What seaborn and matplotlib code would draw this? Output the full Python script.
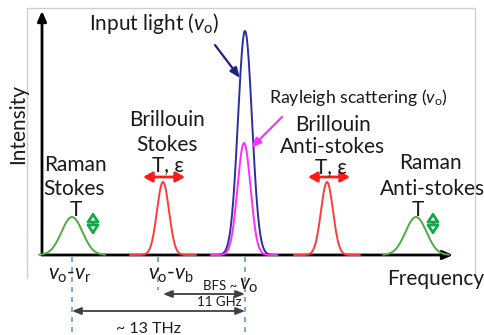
import numpy as np
import pandas as pd
import seaborn as sns
import matplotlib.pyplot as plt

sns.set_theme(style="white")
plt.rcParams['font.family'] = ['Lato', 'DejaVu Sans']
plt.rcParams['mathtext.fontset'] = 'custom'
plt.rcParams['mathtext.rm'] = 'Lato'
plt.rcParams['mathtext.it'] = 'Lato:italic'

# peaks of the scattered spectrum (x: position along frequency axis, y: intensity)
peak_names = ["Raman Stokes", "Brillouin Stokes", "Input light", "Rayleigh",
              "Brillouin Anti-stokes", "Raman Anti-stokes"]
peak_pos = [30, 121, 203, 202, 285, 374]
peak_height = [38, 73, 224, 112, 73, 38]
peak_width = [10.5, 6.0, 7.0, 6.5, 6.0, 10.5]
peak_colors = ["#4fa845", "#ff3b3b", "#2b2f9e", "#ff2cff", "#ff3b3b", "#4fa845"]

# frequency markers under the axis
marker_pos = [30, 116, 203]
marker_bottom = [-80, -35, -80]

# build a long table of the peak curves
rows = []
for name, c, h, s in zip(peak_names, peak_pos, peak_height, peak_width):
    xs = np.linspace(c - 33, c + 33, 200)
    for xv in xs:
        rows.append((name, xv, h * np.exp(-0.5 * ((xv - c) / s) ** 2)))
df = pd.DataFrame(rows, columns=["peak", "freq", "intensity"])

fig = plt.figure(figsize=(4.85, 3.35), dpi=100)
ax = fig.add_axes([0, 0, 1, 1])
ax.set_xlim(-42, 443)
ax.set_ylim(-80, 255)
ax.axis("off")

def P(x, y):
    # pixel position in the 485x335 picture -> figure fraction
    return (x / 485, 1 - y / 335)

# light grey frame
fig.add_artist(plt.Line2D([27 / 485, 27 / 485, 475 / 485, 475 / 485],
                          [1 - 278 / 335, 1 - 8 / 335, 1 - 8 / 335, 1 - 273 / 335],
                          color="#cfcfcf", lw=1.0))

# axes with arrow heads
ax.annotate("", xy=(411, 0), xytext=(0, 0),
            arrowprops=dict(arrowstyle="-|>,head_length=0.5,head_width=0.22",
                            color="black", lw=2.0, shrinkA=0, shrinkB=0), zorder=2)
ax.annotate("", xy=(0, 244), xytext=(0, 0),
            arrowprops=dict(arrowstyle="-|>,head_length=0.5,head_width=0.22",
                            color="black", lw=2.0, shrinkA=0, shrinkB=0), zorder=2)

palette = dict(zip(peak_names, peak_colors))
sns.lineplot(data=df, x="freq", y="intensity", hue="peak", palette=palette,
             hue_order=peak_names, lw=1.4, legend=False, ax=ax, zorder=3,
             sort=False, estimator=None)

# dashed marker lines
for xp, yb in zip(marker_pos, marker_bottom):
    ax.plot([xp, xp], [-2, yb], ls=(0, (3, 3)), color="#5b9bd5", lw=1.2)

fs = 15
tkw = dict(transform=fig.transFigure, ha="center", va="center", color="#1a1a1a")

fig.text(*P(154, 24), r"Input light ($v_\mathrm{o}$)", fontsize=fs, **tkw)
fig.text(*P(358, 97), r"Rayleigh scattering ($v_\mathrm{o}$)", fontsize=12.8, **tkw)

blocks = [
    ([165, 189, 210], ["Raman", "Stokes", "T"], [75, 74, 76]),
    ([120, 145, 165], ["Brillouin", "Stokes", "T, ε"], [167, 167, 168]),
    ([125, 147, 167], ["Brillouin", "Anti-stokes", "T, ε"], [333, 333, 331]),
    ([163, 189, 210], ["Raman", "Anti-stokes", "T"], [430, 433, 418]),
]
for ys, lines, xs in blocks:
    for xx, yy, t in zip(xs, ys, lines):
        fig.text(*P(xx, yy), t, fontsize=fs, **tkw)

fig.text(*P(18, 124), "Intensity", fontsize=fs, rotation=90, **tkw)
fig.text(*P(436, 279), "Frequency", fontsize=fs, **tkw)
fig.text(*P(70, 275), r"$v_\mathrm{o}$-$v_\mathrm{r}$", fontsize=15, **tkw)
fig.text(*P(171, 275), r"$v_\mathrm{o}$-$v_\mathrm{b}$", fontsize=15, **tkw)
fig.text(*P(220, 286), "BFS ~", fontsize=9.5, **tkw)
fig.text(*P(249, 285), r"$v_\mathrm{o}$", fontsize=15, **tkw)
fig.text(*P(219, 302), "11 GHz", fontsize=9.5, **tkw)
fig.text(*P(148, 329), "~ 13 THz", fontsize=11.5, **tkw)

akw = dict(xycoords="figure fraction", textcoords="figure fraction")
# pointer arrows
ax.annotate("", xy=P(240, 78), xytext=P(215, 45),
            arrowprops=dict(arrowstyle="-|>,head_length=0.5,head_width=0.2",
                            color="#1c2380", lw=1.6, shrinkA=0, shrinkB=0), **akw)
ax.annotate("", xy=P(251, 148), xytext=P(282, 117),
            arrowprops=dict(arrowstyle="-|>,head_length=0.5,head_width=0.2",
                            color="#ff33ff", lw=1.6, shrinkA=0, shrinkB=0), **akw)

# red shift arrows (Brillouin)
for x0, x1 in [(143, 185), (308, 350)]:
    ax.annotate("", xy=P(x1, 177), xytext=P(x0, 177),
                arrowprops=dict(arrowstyle="<|-|>,head_length=0.45,head_width=0.25",
                                color="#ff1a1a", lw=2.0, shrinkA=0, shrinkB=0), **akw)
# green amplitude arrows (Raman), hollow heads
for xg in [93, 433]:
    ax.annotate("", xy=P(xg, 235), xytext=P(xg, 212),
                arrowprops=dict(arrowstyle="<|-|>,head_length=0.45,head_width=0.3",
                                ec="#12a84a", fc="white", lw=2.0,
                                shrinkA=0, shrinkB=0), **akw)

# spacing arrows under the axis
ax.annotate("", xy=P(245, 294), xytext=P(163, 294),
            arrowprops=dict(arrowstyle="<|-|>,head_length=0.45,head_width=0.18",
                            color="#404040", lw=1.3, shrinkA=0, shrinkB=0), **akw)
ax.annotate("", xy=P(245, 311), xytext=P(72, 311),
            arrowprops=dict(arrowstyle="<|-|>,head_length=0.45,head_width=0.18",
                            color="#404040", lw=1.3, shrinkA=0, shrinkB=0), **akw)

fig.savefig("out.png", dpi=100)
